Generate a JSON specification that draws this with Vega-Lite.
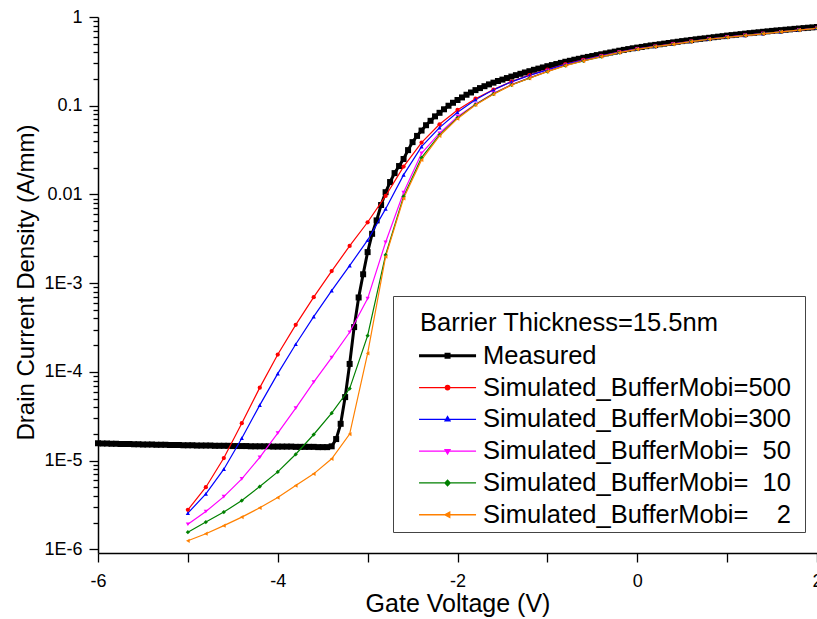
{
"$schema": "https://vega.github.io/schema/vega-lite/v6.json",
"width": 719, "height": 536,
"autosize": {"type": "none"},
"padding": {"left": 98, "top": 17, "right": 0, "bottom": 66},
"background": "white",
"config": {"view": {"stroke": null}, "font": "Liberation Sans"},
"data": {"values": [
{"s":"M","v":-6,"i":1.57e-5},{"s":"M","v":-5.95,"i":1.56e-5},{"s":"M","v":-5.9,"i":1.56e-5},{"s":"M","v":-5.85,"i":1.55e-5},{"s":"M","v":-5.8,"i":1.55e-5},{"s":"M","v":-5.75,"i":1.54e-5},{"s":"M","v":-5.7,"i":1.54e-5},{"s":"M","v":-5.65,"i":1.54e-5},{"s":"M","v":-5.6,"i":1.53e-5},{"s":"M","v":-5.55,"i":1.53e-5},{"s":"M","v":-5.5,"i":1.52e-5},{"s":"M","v":-5.45,"i":1.52e-5},{"s":"M","v":-5.4,"i":1.52e-5},{"s":"M","v":-5.35,"i":1.51e-5},{"s":"M","v":-5.3,"i":1.51e-5},{"s":"M","v":-5.25,"i":1.51e-5},{"s":"M","v":-5.2,"i":1.5e-5},{"s":"M","v":-5.15,"i":1.5e-5},{"s":"M","v":-5.1,"i":1.5e-5},{"s":"M","v":-5.05,"i":1.49e-5},{"s":"M","v":-5,"i":1.49e-5},{"s":"M","v":-4.95,"i":1.49e-5},{"s":"M","v":-4.9,"i":1.48e-5},{"s":"M","v":-4.85,"i":1.48e-5},{"s":"M","v":-4.8,"i":1.48e-5},{"s":"M","v":-4.75,"i":1.48e-5},{"s":"M","v":-4.7,"i":1.47e-5},{"s":"M","v":-4.65,"i":1.47e-5},{"s":"M","v":-4.6,"i":1.47e-5},{"s":"M","v":-4.55,"i":1.47e-5},{"s":"M","v":-4.5,"i":1.46e-5},{"s":"M","v":-4.45,"i":1.46e-5},{"s":"M","v":-4.4,"i":1.46e-5},{"s":"M","v":-4.35,"i":1.46e-5},{"s":"M","v":-4.3,"i":1.45e-5},{"s":"M","v":-4.25,"i":1.45e-5},{"s":"M","v":-4.2,"i":1.45e-5},{"s":"M","v":-4.15,"i":1.45e-5},{"s":"M","v":-4.1,"i":1.45e-5},{"s":"M","v":-4.05,"i":1.44e-5},{"s":"M","v":-4,"i":1.44e-5},{"s":"M","v":-3.95,"i":1.44e-5},{"s":"M","v":-3.9,"i":1.44e-5},{"s":"M","v":-3.85,"i":1.44e-5},{"s":"M","v":-3.8,"i":1.43e-5},{"s":"M","v":-3.75,"i":1.43e-5},{"s":"M","v":-3.7,"i":1.43e-5},{"s":"M","v":-3.65,"i":1.43e-5},{"s":"M","v":-3.6,"i":1.43e-5},{"s":"M","v":-3.55,"i":1.42e-5},{"s":"M","v":-3.5,"i":1.42e-5},{"s":"M","v":-3.45,"i":1.42e-5},{"s":"M","v":-3.4,"i":1.45e-5},{"s":"M","v":-3.35,"i":1.75e-5},{"s":"M","v":-3.3,"i":2.6e-5},{"s":"M","v":-3.25,"i":5.2e-5},{"s":"M","v":-3.2,"i":1.23e-4},{"s":"M","v":-3.15,"i":3.2e-4},{"s":"M","v":-3.1,"i":6.9e-4},{"s":"M","v":-3.05,"i":1.26e-3},{"s":"M","v":-3,"i":2.24e-3},{"s":"M","v":-2.95,"i":3.6e-3},{"s":"M","v":-2.9,"i":5.1e-3},{"s":"M","v":-2.85,"i":7.6e-3},{"s":"M","v":-2.8,"i":0.0106},{"s":"M","v":-2.75,"i":0.0138},{"s":"M","v":-2.7,"i":0.0174},{"s":"M","v":-2.65,"i":0.0209},{"s":"M","v":-2.6,"i":0.0251},{"s":"M","v":-2.55,"i":0.0316},{"s":"M","v":-2.5,"i":0.0389},{"s":"M","v":-2.45,"i":0.0457},{"s":"M","v":-2.4,"i":0.0525},{"s":"M","v":-2.35,"i":0.0603},{"s":"M","v":-2.3,"i":0.0676},{"s":"M","v":-2.25,"i":0.0759},{"s":"M","v":-2.2,"i":0.0832},{"s":"M","v":-2.15,"i":0.0912},{"s":"M","v":-2.1,"i":0.1},{"s":"M","v":-2.05,"i":0.108},{"s":"M","v":-2,"i":0.116},{"s":"M","v":-1.95,"i":0.124},{"s":"M","v":-1.9,"i":0.133},{"s":"M","v":-1.85,"i":0.141},{"s":"M","v":-1.8,"i":0.15},{"s":"M","v":-1.75,"i":0.158},{"s":"M","v":-1.7,"i":0.166},{"s":"M","v":-1.65,"i":0.174},{"s":"M","v":-1.6,"i":0.182},{"s":"M","v":-1.55,"i":0.19},{"s":"M","v":-1.5,"i":0.197},{"s":"M","v":-1.45,"i":0.205},{"s":"M","v":-1.4,"i":0.213},{"s":"M","v":-1.35,"i":0.221},{"s":"M","v":-1.3,"i":0.229},{"s":"M","v":-1.25,"i":0.237},{"s":"M","v":-1.2,"i":0.245},{"s":"M","v":-1.15,"i":0.254},{"s":"M","v":-1.1,"i":0.262},{"s":"M","v":-1.05,"i":0.27},{"s":"M","v":-1,"i":0.279},{"s":"M","v":-0.95,"i":0.287},{"s":"M","v":-0.9,"i":0.295},{"s":"M","v":-0.85,"i":0.304},{"s":"M","v":-0.8,"i":0.313},{"s":"M","v":-0.75,"i":0.321},{"s":"M","v":-0.7,"i":0.33},{"s":"M","v":-0.65,"i":0.338},{"s":"M","v":-0.6,"i":0.347},{"s":"M","v":-0.55,"i":0.355},{"s":"M","v":-0.5,"i":0.363},{"s":"M","v":-0.45,"i":0.372},{"s":"M","v":-0.4,"i":0.38},{"s":"M","v":-0.35,"i":0.389},{"s":"M","v":-0.3,"i":0.398},{"s":"M","v":-0.25,"i":0.407},{"s":"M","v":-0.2,"i":0.417},{"s":"M","v":-0.15,"i":0.426},{"s":"M","v":-0.1,"i":0.435},{"s":"M","v":-0.05,"i":0.444},{"s":"M","v":0,"i":0.452},{"s":"M","v":0.05,"i":0.46},{"s":"M","v":0.1,"i":0.469},{"s":"M","v":0.15,"i":0.478},{"s":"M","v":0.2,"i":0.485},{"s":"M","v":0.25,"i":0.493},{"s":"M","v":0.3,"i":0.501},{"s":"M","v":0.35,"i":0.509},{"s":"M","v":0.4,"i":0.518},{"s":"M","v":0.45,"i":0.526},{"s":"M","v":0.5,"i":0.535},{"s":"M","v":0.55,"i":0.543},{"s":"M","v":0.6,"i":0.551},{"s":"M","v":0.65,"i":0.56},{"s":"M","v":0.7,"i":0.568},{"s":"M","v":0.75,"i":0.575},{"s":"M","v":0.8,"i":0.583},{"s":"M","v":0.85,"i":0.592},{"s":"M","v":0.9,"i":0.6},{"s":"M","v":0.95,"i":0.608},{"s":"M","v":1,"i":0.617},{"s":"M","v":1.05,"i":0.625},{"s":"M","v":1.1,"i":0.632},{"s":"M","v":1.15,"i":0.641},{"s":"M","v":1.2,"i":0.649},{"s":"M","v":1.25,"i":0.658},{"s":"M","v":1.3,"i":0.665},{"s":"M","v":1.35,"i":0.673},{"s":"M","v":1.4,"i":0.681},{"s":"M","v":1.45,"i":0.689},{"s":"M","v":1.5,"i":0.697},{"s":"M","v":1.55,"i":0.705},{"s":"M","v":1.6,"i":0.711},{"s":"M","v":1.65,"i":0.719},{"s":"M","v":1.7,"i":0.726},{"s":"M","v":1.75,"i":0.735},{"s":"M","v":1.8,"i":0.741},{"s":"M","v":1.85,"i":0.75},{"s":"M","v":1.9,"i":0.757},{"s":"M","v":1.95,"i":0.764},{"s":"M","v":2,"i":0.771},

{"s":"500","v":-5,"i":2.79e-6},{"s":"500","v":-4.8,"i":5.02e-6},{"s":"500","v":-4.6,"i":1.07e-5},{"s":"500","v":-4.4,"i":2.64e-5},{"s":"500","v":-4.2,"i":6.65e-5},{"s":"500","v":-4,"i":1.57e-4},{"s":"500","v":-3.8,"i":3.39e-4},{"s":"500","v":-3.6,"i":6.95e-4},{"s":"500","v":-3.4,"i":1.37e-3},{"s":"500","v":-3.2,"i":2.63e-3},{"s":"500","v":-3,"i":4.86e-3},{"s":"500","v":-2.8,"i":9.62e-3},{"s":"500","v":-2.6,"i":0.0206},{"s":"500","v":-2.4,"i":0.0384},{"s":"500","v":-2.2,"i":0.0618},{"s":"500","v":-2,"i":0.0896},{"s":"500","v":-1.8,"i":0.12},{"s":"500","v":-1.6,"i":0.152},{"s":"500","v":-1.4,"i":0.187},{"s":"500","v":-1.2,"i":0.221},{"s":"500","v":-1,"i":0.256},{"s":"500","v":-0.8,"i":0.294},{"s":"500","v":-0.6,"i":0.329},{"s":"500","v":-0.4,"i":0.365},{"s":"500","v":-0.2,"i":0.403},{"s":"500","v":0,"i":0.438},{"s":"500","v":0.2,"i":0.468},{"s":"500","v":0.4,"i":0.497},{"s":"500","v":0.6,"i":0.531},{"s":"500","v":0.8,"i":0.564},{"s":"500","v":1,"i":0.594},{"s":"500","v":1.2,"i":0.622},{"s":"500","v":1.4,"i":0.651},{"s":"500","v":1.6,"i":0.682},{"s":"500","v":1.8,"i":0.713},{"s":"500","v":2,"i":0.748},

{"s":"300","v":-5,"i":2.56e-6},{"s":"300","v":-4.8,"i":4.22e-6},{"s":"300","v":-4.6,"i":8.01e-6},{"s":"300","v":-4.4,"i":1.79e-5},{"s":"300","v":-4.2,"i":4.22e-5},{"s":"300","v":-4,"i":9.57e-5},{"s":"300","v":-3.8,"i":2.05e-4},{"s":"300","v":-3.6,"i":4.2e-4},{"s":"300","v":-3.4,"i":8.24e-4},{"s":"300","v":-3.2,"i":1.58e-3},{"s":"300","v":-3,"i":3.05e-3},{"s":"300","v":-2.8,"i":6.87e-3},{"s":"300","v":-2.6,"i":0.0166},{"s":"300","v":-2.4,"i":0.0346},{"s":"300","v":-2.2,"i":0.0566},{"s":"300","v":-2,"i":0.0843},{"s":"300","v":-1.8,"i":0.117},{"s":"300","v":-1.6,"i":0.151},{"s":"300","v":-1.4,"i":0.186},{"s":"300","v":-1.2,"i":0.22},{"s":"300","v":-1,"i":0.254},{"s":"300","v":-0.8,"i":0.292},{"s":"300","v":-0.6,"i":0.327},{"s":"300","v":-0.4,"i":0.364},{"s":"300","v":-0.2,"i":0.402},{"s":"300","v":0,"i":0.437},{"s":"300","v":0.2,"i":0.467},{"s":"300","v":0.4,"i":0.496},{"s":"300","v":0.6,"i":0.53},{"s":"300","v":0.8,"i":0.563},{"s":"300","v":1,"i":0.593},{"s":"300","v":1.2,"i":0.621},{"s":"300","v":1.4,"i":0.65},{"s":"300","v":1.6,"i":0.681},{"s":"300","v":1.8,"i":0.713},{"s":"300","v":2,"i":0.748},

{"s":"50","v":-5,"i":1.92e-6},{"s":"50","v":-4.8,"i":2.67e-6},{"s":"50","v":-4.6,"i":3.93e-6},{"s":"50","v":-4.4,"i":6.22e-6},{"s":"50","v":-4.2,"i":1.09e-5},{"s":"50","v":-4,"i":2.04e-5},{"s":"50","v":-3.8,"i":3.9e-5},{"s":"50","v":-3.6,"i":7.66e-5},{"s":"50","v":-3.4,"i":1.45e-4},{"s":"50","v":-3.2,"i":2.8e-4},{"s":"50","v":-3,"i":6.7e-4},{"s":"50","v":-2.8,"i":2.89e-3},{"s":"50","v":-2.6,"i":0.0105},{"s":"50","v":-2.4,"i":0.0291},{"s":"50","v":-2.2,"i":0.049},{"s":"50","v":-2,"i":0.0753},{"s":"50","v":-1.8,"i":0.104},{"s":"50","v":-1.6,"i":0.138},{"s":"50","v":-1.4,"i":0.173},{"s":"50","v":-1.2,"i":0.206},{"s":"50","v":-1,"i":0.245},{"s":"50","v":-0.8,"i":0.286},{"s":"50","v":-0.6,"i":0.322},{"s":"50","v":-0.4,"i":0.36},{"s":"50","v":-0.2,"i":0.399},{"s":"50","v":0,"i":0.434},{"s":"50","v":0.2,"i":0.465},{"s":"50","v":0.4,"i":0.494},{"s":"50","v":0.6,"i":0.529},{"s":"50","v":0.8,"i":0.562},{"s":"50","v":1,"i":0.592},{"s":"50","v":1.2,"i":0.62},{"s":"50","v":1.4,"i":0.649},{"s":"50","v":1.6,"i":0.68},{"s":"50","v":1.8,"i":0.712},{"s":"50","v":2,"i":0.747},

{"s":"10","v":-5,"i":1.56e-6},{"s":"10","v":-4.8,"i":2.03e-6},{"s":"10","v":-4.6,"i":2.63e-6},{"s":"10","v":-4.4,"i":3.55e-6},{"s":"10","v":-4.2,"i":5.1e-6},{"s":"10","v":-4,"i":7.47e-6},{"s":"10","v":-3.8,"i":1.18e-5},{"s":"10","v":-3.6,"i":1.97e-5},{"s":"10","v":-3.4,"i":3.43e-5},{"s":"10","v":-3.2,"i":6.49e-5},{"s":"10","v":-3,"i":2.56e-4},{"s":"10","v":-2.8,"i":2.08e-3},{"s":"10","v":-2.6,"i":0.0095},{"s":"10","v":-2.4,"i":0.026},{"s":"10","v":-2.2,"i":0.047},{"s":"10","v":-2,"i":0.073},{"s":"10","v":-1.8,"i":0.103},{"s":"10","v":-1.6,"i":0.136},{"s":"10","v":-1.4,"i":0.172},{"s":"10","v":-1.2,"i":0.205},{"s":"10","v":-1,"i":0.243},{"s":"10","v":-0.8,"i":0.284},{"s":"10","v":-0.6,"i":0.32},{"s":"10","v":-0.4,"i":0.358},{"s":"10","v":-0.2,"i":0.397},{"s":"10","v":0,"i":0.433},{"s":"10","v":0.2,"i":0.464},{"s":"10","v":0.4,"i":0.493},{"s":"10","v":0.6,"i":0.528},{"s":"10","v":0.8,"i":0.562},{"s":"10","v":1,"i":0.591},{"s":"10","v":1.2,"i":0.619},{"s":"10","v":1.4,"i":0.648},{"s":"10","v":1.6,"i":0.68},{"s":"10","v":1.8,"i":0.712},{"s":"10","v":2,"i":0.747},

{"s":"2","v":-5,"i":1.25e-6},{"s":"2","v":-4.8,"i":1.5e-6},{"s":"2","v":-4.6,"i":1.85e-6},{"s":"2","v":-4.4,"i":2.31e-6},{"s":"2","v":-4.2,"i":2.94e-6},{"s":"2","v":-4,"i":3.84e-6},{"s":"2","v":-3.8,"i":5.24e-6},{"s":"2","v":-3.6,"i":7.1e-6},{"s":"2","v":-3.4,"i":1.05e-5},{"s":"2","v":-3.2,"i":1.99e-5},{"s":"2","v":-3,"i":1.62e-4},{"s":"2","v":-2.8,"i":1.99e-3},{"s":"2","v":-2.6,"i":9.06e-3},{"s":"2","v":-2.4,"i":0.0245},{"s":"2","v":-2.2,"i":0.0456},{"s":"2","v":-2,"i":0.0715},{"s":"2","v":-1.8,"i":0.102},{"s":"2","v":-1.6,"i":0.135},{"s":"2","v":-1.4,"i":0.171},{"s":"2","v":-1.2,"i":0.204},{"s":"2","v":-1,"i":0.242},{"s":"2","v":-0.8,"i":0.283},{"s":"2","v":-0.6,"i":0.319},{"s":"2","v":-0.4,"i":0.357},{"s":"2","v":-0.2,"i":0.396},{"s":"2","v":0,"i":0.432},{"s":"2","v":0.2,"i":0.463},{"s":"2","v":0.4,"i":0.492},{"s":"2","v":0.6,"i":0.527},{"s":"2","v":0.8,"i":0.561},{"s":"2","v":1,"i":0.59},{"s":"2","v":1.2,"i":0.618},{"s":"2","v":1.4,"i":0.647},{"s":"2","v":1.6,"i":0.679},{"s":"2","v":1.8,"i":0.711},{"s":"2","v":2,"i":0.746}
]},
"encoding": {
  "x": {"field": "v", "type": "quantitative", "scale": {"domain": [-6, 2], "nice": false, "zero": false},
    "axis": {"values": [-6, -5, -4, -3, -2, -1, 0, 1, 2], "labelExpr": "datum.value % 2 == 0 ? toString(datum.value) : ''",
      "grid": false, "tickSize": 9, "tickColor": "black", "tickWidth": 1.3, "domainColor": "black", "domainWidth": 1.5,
      "labelPadding": 10, "labelFontSize": 18, "labelFont": "Liberation Sans", "labelColor": "black", "labelFlush": false, "labelOverlap": false,
      "title": "Gate Voltage (V)", "titleFont": "Liberation Sans", "titleFontSize": 25, "titleFontWeight": "normal", "titleColor": "black",
      "titleY": 58, "titleBaseline": "alphabetic"}},
  "y": {"field": "i", "type": "quantitative", "scale": {"type": "log", "domain": [9.1e-7, 1], "nice": false},
    "axis": {"orient": "left",
      "values": [1e-6,2e-6,3e-6,4e-6,5e-6,6e-6,7e-6,8e-6,9e-6,1e-5,2e-5,3e-5,4e-5,5e-5,6e-5,7e-5,8e-5,9e-5,1e-4,2e-4,3e-4,4e-4,5e-4,6e-4,7e-4,8e-4,9e-4,1e-3,2e-3,3e-3,4e-3,5e-3,6e-3,7e-3,8e-3,9e-3,0.01,0.02,0.03,0.04,0.05,0.06,0.07,0.08,0.09,0.1,0.2,0.3,0.4,0.5,0.6,0.7,0.8,0.9,1],
      "labelExpr": "abs(log(datum.value) / LN10 - round(log(datum.value) / LN10)) < 0.000001 ? (datum.value >= 0.01 ? format(datum.value, '') : '1E' + round(log(datum.value) / LN10)) : ''",
      "tickSize": {"condition": {"test": "abs(log(datum.value) / LN10 - round(log(datum.value) / LN10)) < 0.000001", "value": 9}, "value": 5},
      "grid": false, "tickColor": "black", "tickWidth": 1.3, "domainColor": "black", "domainWidth": 1.5,
      "labelPadding": 7, "labelFontSize": 18, "labelFont": "Liberation Sans", "labelColor": "black", "labelFlush": false, "labelOverlap": false,
      "title": "Drain Current Density (A/mm)", "titleFont": "Liberation Sans", "titleFontSize": 24, "titleFontWeight": "normal", "titleColor": "black",
      "titleX": -65, "titleY": 265, "titleBaseline": "alphabetic", "titleAngle": 270}},
  "color": {"field": "s", "type": "nominal",
    "scale": {"domain": ["M", "500", "300", "50", "10", "2"], "range": ["#000000", "#FF0000", "#0000FF", "#FF00FF", "#008000", "#FF8000"]},
    "legend": {
      "orient": "none", "legendX": 295, "legendY": 279, "direction": "vertical",
      "title": "Barrier Thickness=15.5nm",
      "titleFont": "Liberation Sans", "titleFontSize": 25.5, "titleFontWeight": "normal", "titleColor": "black",
      "titleAnchor": "start", "titlePadding": 18.5, "titleLimit": 1000,
      "labelFont": "Liberation Sans", "labelFontSize": 25.5, "labelColor": "black", "labelLimit": 1000, "labelOffset": 61.6,
      "labelExpr": "datum.label === 'M' ? 'Measured' : 'Simulated_BufferMobi=' + (length(datum.label) === 3 ? '' : length(datum.label) === 2 ? '\u00a0\u00a0' : '\u00a0\u00a0\u00a0\u00a0') + datum.label",
      "symbolSize": 400, "rowPadding": 4.8, "padding": 3,
      "strokeColor": "#444444", "fillColor": "white",
      "encode": {
        "title": {"update": {"dx": {"value": 24}, "dy": {"value": 12}}},
        "symbols": {"update": {
          "opacity": {"value": 1},
          "shape": {"signal": "datum.value === 'M' ? 'M-1.1,0M38.7,0M1.03,0H6.73M3.73,-0.15H4.03V0.15H3.73Z' : datum.value === '500' ? 'M-1.1,0M38.7,0M1.03,0H6.73M3.66,0A0.22,0.22 0 1,0 4.1,0A0.22,0.22 0 1,0 3.66,0Z' : datum.value === '300' ? 'M-1.1,0M38.7,0M1.03,0H6.73M3.88,-0.28L4.13,0.16L3.63,0.16Z' : datum.value === '50' ? 'M-1.1,0M38.7,0M1.03,0H6.73M3.88,0.28L4.13,-0.16L3.63,-0.16Z' : datum.value === '10' ? 'M-1.1,0M38.7,0M1.03,0H6.73M3.88,-0.28L4.14,0L3.88,0.28L3.62,0Z' : 'M-1.1,0M38.7,0M1.03,0H6.73M3.6,0L4.1,-0.26L4.1,0.26Z'"},
          "fill": {"scale": "color", "field": "value"},
          "stroke": {"scale": "color", "field": "value"},
          "strokeWidth": {"signal": "datum.value === 'M' ? 3 : 1.3"}
        }}
      }
    }
  }
},
"layer": [
  {
    "transform": [{"filter": "datum.s === 'M'"}],
    "mark": {"type": "line", "strokeWidth": 3}
  },
  {
    "transform": [{"filter": "datum.s === 'M'"}],
    "mark": {"type": "point", "shape": "square", "filled": true, "size": 36, "opacity": 1}
  },
  {
    "transform": [{"filter": "datum.s !== 'M'"}],
    "mark": {"type": "line", "strokeWidth": 1.2}
  },
  {
    "transform": [{"filter": "datum.s !== 'M'"}],
    "mark": {"type": "point", "filled": true, "size": 18, "opacity": 1},
    "encoding": {
      "shape": {"field": "s", "type": "nominal", "scale": {"domain": ["500", "300", "50", "10", "2"], "range": ["circle", "triangle-up", "triangle-down", "diamond", "triangle-left"]}, "legend": null}
    }
  }
]
}
